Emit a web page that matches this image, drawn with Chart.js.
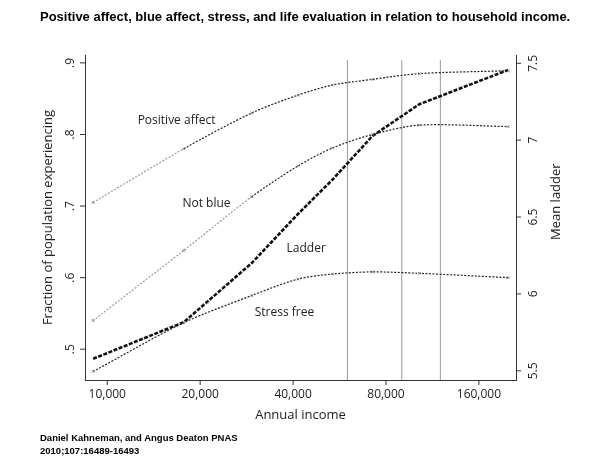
<!DOCTYPE html>
<html><head><meta charset="utf-8">
<script src="https://cdn.jsdelivr.net/npm/chart.js@4"></script>
<style>
body{margin:0;background:#fff;width:590px;height:460px;overflow:hidden;position:relative;font-family:"Liberation Sans",Arial,sans-serif}
#t{position:absolute;left:40px;top:9px;font-weight:bold;font-size:13px;color:#000}
#s{position:absolute;left:40px;top:431px;font-weight:bold;font-size:9.5px;line-height:13px;color:#000}
#w{position:absolute;left:0;top:0;width:590px;height:460px}
</style></head><body>
<div id="w"><canvas id="c"></canvas></div>
<div id="t">Positive affect, blue affect, stress, and life evaluation in relation to household income.</div>
<div id="s">Daniel Kahneman, and Angus Deaton PNAS<br>2010;107:16489-16493</div>
<script>
const incomes = [9000, 17700, 29400, 41500, 53600, 72400, 102600, 199000];
const positiveAffect = [0.705, 0.780, 0.830, 0.855, 0.869, 0.877, 0.885, 0.889];
const notBlue = [0.540, 0.638, 0.713, 0.756, 0.781, 0.800, 0.813, 0.811];
const stressFree = [0.469, 0.537, 0.575, 0.598, 0.605, 0.608, 0.606, 0.600];
const ladder = [5.578, 5.816, 6.201, 6.52, 6.742, 7.028, 7.234, 7.457];
const xTicks = [10000, 20000, 40000, 80000, 160000];
const xTickLabels = ["10,000", "20,000", "40,000", "80,000", "160,000"];
const leftTicks = [0.5, 0.6, 0.7, 0.8, 0.9];
const leftTickLabels = [".5", ".6", ".7", ".8", ".9"];
const rightTicks = [5.5, 6, 6.5, 7, 7.5];
const rightTickLabels = ["5.5", "6", "6.5", "7", "7.5"];
const vLines = [60000, 90000, 120000];
const annotations = [
  {text:"Positive affect", x:16770, y:0.819},
  {text:"Not blue", x:20970, y:0.704},
  {text:"Ladder", x:44100, y:0.640},
  {text:"Stress free", x:37500, y:0.551}
];

const pts = arr => arr.map((v,i)=>({x:incomes[i], y:v}));
const lightFirst = (n) => ({borderColor: ctx => ctx.p0DataIndex < n ? '#999' : '#222'});
const dotted = (data, n) => ({data: pts(data), yAxisID:'y', borderColor:'#222', borderWidth:1.2, borderDash:[2,1.5],
  pointStyle:'crossRot', pointRadius:2, pointBorderColor:'#777', pointBorderWidth:0.8, fill:false, tension:0.3,
  segment: lightFirst(n)});

const F = '"Open Sans", sans-serif';
const overlay = {
  id:'overlay',
  beforeDatasetsDraw(chart){
    const {ctx, chartArea:a, scales:{x}} = chart;
    ctx.save(); ctx.strokeStyle='#999'; ctx.lineWidth=1;
    vLines.forEach(v=>{const px=x.getPixelForValue(v); ctx.beginPath(); ctx.moveTo(px,a.top+5); ctx.lineTo(px,a.bottom); ctx.stroke();});
    ctx.restore();
  },
  afterDraw(chart){
    const {ctx, chartArea:a, scales:{x,y,y2}} = chart;
    ctx.save(); ctx.fillStyle='#222'; ctx.strokeStyle='#333'; ctx.lineWidth=1;
    ctx.font='12px '+F;
    xTicks.forEach((v,i)=>{const px=x.getPixelForValue(v);
      ctx.beginPath(); ctx.moveTo(px,a.bottom); ctx.lineTo(px,a.bottom+5); ctx.stroke();
      ctx.textAlign='center'; ctx.textBaseline='top'; ctx.fillText(xTickLabels[i],px,a.bottom+9);});
    ctx.font='13px '+F; ctx.textAlign='center'; ctx.textBaseline='top';
    ctx.fillText('Annual income',(a.left+a.right)/2,a.bottom+29);
    ctx.font='12px '+F;
    leftTicks.forEach((v,i)=>{const py=y.getPixelForValue(v);
      ctx.beginPath(); ctx.moveTo(a.left,py); ctx.lineTo(a.left-5,py); ctx.stroke();
      ctx.save(); ctx.translate(a.left-14,py); ctx.rotate(-Math.PI/2); ctx.textAlign='center'; ctx.textBaseline='middle'; ctx.fillText(leftTickLabels[i],0,0); ctx.restore();});
    rightTicks.forEach((v,i)=>{const py=y2.getPixelForValue(v);
      ctx.beginPath(); ctx.moveTo(a.right,py); ctx.lineTo(a.right+5,py); ctx.stroke();
      ctx.save(); ctx.translate(a.right+18,py); ctx.rotate(-Math.PI/2); ctx.textAlign='center'; ctx.textBaseline='middle'; ctx.fillText(rightTickLabels[i],0,0); ctx.restore();});
    ctx.font='13px '+F;
    ctx.save(); ctx.translate(48,(a.top+a.bottom)/2); ctx.rotate(-Math.PI/2); ctx.textAlign='center'; ctx.textBaseline='middle'; ctx.fillText('Fraction of population experiencing',0,0); ctx.restore();
    ctx.save(); ctx.translate(556,y2.getPixelForValue(6.6)); ctx.rotate(-Math.PI/2); ctx.textAlign='center'; ctx.textBaseline='middle'; ctx.fillText('Mean ladder',0,0); ctx.restore();
    ctx.font='12px '+F; ctx.textAlign='center'; ctx.textBaseline='middle';
    annotations.forEach(an=>ctx.fillText(an.text,x.getPixelForValue(an.x),y.getPixelForValue(an.y)));
    ctx.restore();
  }
};

new Chart(document.getElementById('c'), {
  type:'line',
  data:{datasets:[
    dotted(positiveAffect,1),
    dotted(notBlue,2),
    dotted(stressFree,0),
    {data:pts(ladder), yAxisID:'y2', borderColor:'#111', borderWidth:2.6, borderDash:[4,1.5], pointRadius:0, fill:false, tension:0}
  ]},
  options:{
    responsive:true, maintainAspectRatio:false, animation:false,
    layout:{padding:{left:77,right:66,top:55,bottom:72}},
    plugins:{legend:{display:false},tooltip:{enabled:false}},
    scales:{
      x:{type:'logarithmic',min:8470,max:211000,ticks:{display:false},grid:{display:false},border:{display:true,color:'#333'}},
      y:{position:'left',min:0.457,max:0.911,ticks:{display:false},grid:{display:false},border:{display:true,color:'#333'}},
      y2:{position:'right',min:5.44,max:7.554,ticks:{display:false},grid:{display:false},border:{display:true,color:'#333'}}
    }
  },
  plugins:[overlay]
});
</script>
</body></html>
